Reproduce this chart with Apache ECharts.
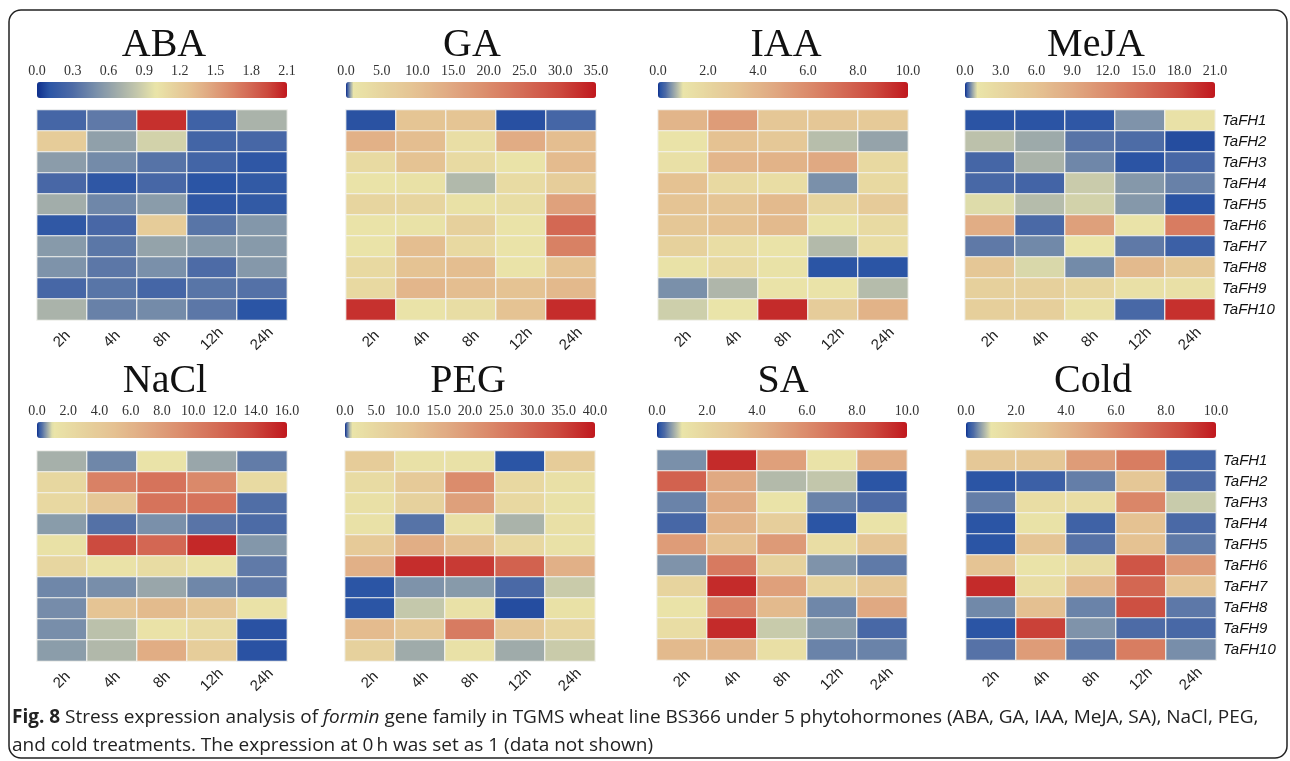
<!DOCTYPE html>
<html>
<head>
<meta charset="utf-8">
<script src="https://cdn.jsdelivr.net/npm/echarts@6/dist/echarts.min.js"></script>
<style>
  html, body { margin: 0; padding: 0; background: #fff; }
  #chart { width: 1290px; height: 761px; }
</style>
</head>
<body>
<div id="chart"></div>
<script>
// time points and genes
const hours = ['2h', '4h', '8h', '12h', '24h'];
const genes = ['TaFH1', 'TaFH2', 'TaFH3', 'TaFH4', 'TaFH5', 'TaFH6', 'TaFH7', 'TaFH8', 'TaFH9', 'TaFH10'];

// panels, in reading order
const treatments = ['ABA', 'GA', 'IAA', 'MeJA', 'NaCl', 'PEG', 'SA', 'Cold'];
const scaleMax = [2.1, 35, 10, 21, 16, 40, 10, 10];
const scaleStep = [0.3, 5, 2, 3, 2, 5, 2, 2];

// relative expression (0 h = 1), one row per gene, columns 2h..24h
const aba = [
  [0.25, 0.38, 2.02, 0.22, 0.72],
  [1.2, 0.6, 0.9, 0.24, 0.26],
  [0.58, 0.47, 0.34, 0.24, 0.12],
  [0.27, 0.12, 0.26, 0.1, 0.14],
  [0.68, 0.45, 0.57, 0.12, 0.14],
  [0.13, 0.27, 1.2, 0.35, 0.54],
  [0.56, 0.36, 0.62, 0.56, 0.56],
  [0.52, 0.37, 0.5, 0.3, 0.55],
  [0.26, 0.35, 0.25, 0.35, 0.33],
  [0.72, 0.42, 0.47, 0.37, 0.1]
];
const ga = [
  [0.1, 9, 9, 0.09, 0.25],
  [13, 10.5, 2.7, 14, 10.5],
  [3.7, 9.5, 3.7, 1.5, 11],
  [1.5, 2, 0.75, 3.5, 7],
  [5, 5, 2, 3, 16],
  [1.5, 1.8, 6, 1.5, 25.5],
  [1.6, 10.5, 4, 1.5, 21.5],
  [4, 9.5, 10.5, 1.5, 9.5],
  [4, 12, 10.5, 9.5, 11.5],
  [32.5, 1.5, 3, 9.5, 33]
];
const iaa = [
  [4, 5.2, 3, 3, 2.8],
  [1.1, 3.3, 2.9, 0.78, 0.62],
  [1.3, 3.9, 4.1, 4.6, 1.8],
  [3.3, 1.8, 1.5, 0.5, 1.8],
  [3.2, 3.1, 3.7, 2, 2.7],
  [3, 3.3, 3.7, 1.2, 1.7],
  [2.3, 1.5, 1.1, 0.76, 1.5],
  [1.2, 1.7, 1.2, 0.1, 0.1],
  [0.5, 0.74, 1.1, 1.1, 0.77],
  [0.88, 1.05, 9.5, 2.6, 4.1]
];
const meja = [
  [0.1, 0.1, 0.12, 0.52, 1.5],
  [0.8, 0.66, 0.35, 0.3, 0.08],
  [0.25, 0.72, 0.45, 0.1, 0.26],
  [0.27, 0.24, 0.86, 0.55, 0.42],
  [0.95, 0.77, 0.9, 0.55, 0.1],
  [8.5, 0.28, 10, 1.3, 13.5],
  [0.38, 0.46, 1.2, 0.38, 0.2],
  [5.4, 0.93, 0.47, 7, 5.3],
  [4, 4, 3.2, 1.8, 1.8],
  [4.2, 4.2, 1.8, 0.27, 19.6]
];
const nacl = [
  [0.7, 0.45, 1.2, 0.64, 0.39],
  [2.5, 10, 11, 9.5, 2.2],
  [2.4, 4.3, 11, 11, 0.31],
  [0.57, 0.33, 0.5, 0.35, 0.29],
  [1.5, 13.7, 11.8, 15.3, 0.54],
  [2.6, 1.3, 2, 1.3, 0.38],
  [0.45, 0.49, 0.64, 0.45, 0.38],
  [0.48, 4.6, 5.5, 4.4, 1.3],
  [0.49, 0.8, 1.3, 2.1, 0.1],
  [0.58, 0.75, 6.7, 3.6, 0.1]
];
const peg = [
  [8, 2, 2, 0.1, 8],
  [3.7, 8.8, 22.5, 4.5, 2.5],
  [2.5, 6.5, 18.5, 4.5, 2],
  [2, 0.34, 2.5, 0.72, 2.5],
  [8.8, 15.5, 11.5, 4.5, 2],
  [15, 37.5, 36, 30, 15],
  [0.1, 0.52, 0.56, 0.28, 0.86],
  [0.1, 0.84, 2, 0.08, 2.2],
  [12.5, 9.5, 25.5, 9.5, 5.5],
  [6.5, 0.67, 2, 0.67, 0.86]
];
const sa = [
  [0.5, 9.5, 5, 1.1, 4.4],
  [7.7, 4.6, 0.76, 0.83, 0.1],
  [0.43, 4.5, 1.1, 0.43, 0.3],
  [0.26, 4.1, 2.5, 0.1, 1.1],
  [5.2, 3.3, 5.3, 1.5, 3.1],
  [0.52, 6.7, 2.2, 0.52, 0.38],
  [2.1, 9.5, 5, 2.1, 3],
  [1.1, 6.4, 3.7, 0.45, 4.6],
  [1.5, 9.5, 0.86, 0.56, 0.27],
  [3.7, 4, 1.4, 0.43, 0.43]
];
const cold = [
  [2.9, 3, 5.2, 6.6, 0.24],
  [0.1, 0.2, 0.4, 3, 0.3],
  [0.4, 1.5, 1.5, 6.2, 0.86],
  [0.1, 1.2, 0.22, 3.3, 0.28],
  [0.1, 3.1, 0.34, 3.3, 0.38],
  [3.2, 1.1, 1.6, 8.2, 5.3],
  [9.5, 1.5, 3.8, 7.5, 3.1],
  [0.46, 3.4, 0.43, 8.4, 0.37],
  [0.1, 8.9, 0.52, 0.3, 0.27],
  [0.34, 5.2, 0.38, 6.6, 0.49]
];
const panelData = [aba, ga, iaa, meja, nacl, peg, sa, cold];

// ---- colour scale: blue (0) -> pale yellow (1) -> red (max) ----
const lowStops = [
  [0, '#0f2f8c'], [0.1, '#2b55a5'], [0.3, '#4d6ba6'], [0.5, '#7a90aa'],
  [0.7, '#a6b0aa'], [0.85, '#c6c9ab'], [1, '#eae5a9']
];
const highStops = [
  [0, '#eae5a9'], [0.15, '#e6d09c'], [0.25, '#e5c393'], [0.4, '#e0a982'],
  [0.55, '#db8c6c'], [0.7, '#d46c56'], [0.85, '#cc4a3e'], [1, '#c0181e']
];

function hexToRgb(h) {
  return [parseInt(h.slice(1, 3), 16), parseInt(h.slice(3, 5), 16), parseInt(h.slice(5, 7), 16)];
}
function lerpStops(stops, t) {
  t = Math.max(0, Math.min(1, t));
  for (let i = 1; i < stops.length; i++) {
    if (t <= stops[i][0]) {
      const a = stops[i - 1], b = stops[i];
      const f = (t - a[0]) / (b[0] - a[0]);
      const ca = hexToRgb(a[1]), cb = hexToRgb(b[1]);
      const c = ca.map((v, k) => Math.round(v + (cb[k] - v) * f));
      return 'rgb(' + c.join(',') + ')';
    }
  }
  return stops[stops.length - 1][1];
}
function colourAt(v, max) {
  if (v <= 1) return lerpStops(lowStops, v);
  return lerpStops(highStops, (v - 1) / (max - 1));
}
function paletteFor(max) {
  const n = 400;
  const out = [];
  for (let i = 0; i <= n; i++) out.push(colourAt(max * i / n, max));
  return out;
}

// ---- layout ----
const cellLeft = [37, 346, 658, 965, 37, 345, 657, 966];
const cellTop = [110, 110, 110, 110, 451, 451, 450, 450];
const cellW = 250, cellH = 210;
const barTop = [82, 82, 82, 82, 422, 422, 422, 422];
const barH = 16;
const titleCenter = [164, 472, 786, 1096, 165, 468, 783, 1093];
const titleTop = [25, 25, 25, 25, 361, 361, 361, 361];

const chart = echarts.init(document.getElementById('chart'));

const grid = [], xAxis = [], yAxis = [], series = [], visualMap = [], title = [];

treatments.forEach((name, i) => {
  const max = scaleMax[i];
  const showGenes = (i % 4 === 3);

  // heatmap grid
  grid.push({ left: cellLeft[i], top: cellTop[i], width: cellW, height: cellH, containLabel: false });
  // colour bar label grid
  grid.push({ left: cellLeft[i], top: barTop[i], width: cellW, height: barH, containLabel: false });

  xAxis.push({
    type: 'category', gridIndex: 2 * i, data: hours,
    axisLine: { show: false }, axisTick: { show: false }, splitLine: { show: false },
    axisLabel: {
      rotate: 45, align: 'center', verticalAlign: 'middle', margin: 19,
      fontFamily: 'Liberation Sans, Arial, sans-serif', fontSize: 15, color: '#222'
    }
  });
  yAxis.push({
    type: 'category', gridIndex: 2 * i, data: genes, inverse: true,
    position: 'right',
    axisLine: { show: false }, axisTick: { show: false }, splitLine: { show: false },
    axisLabel: {
      show: showGenes, margin: 7, fontStyle: 'italic',
      fontFamily: 'Liberation Sans, Arial, sans-serif', fontSize: 15, color: '#111'
    }
  });

  xAxis.push({
    type: 'value', gridIndex: 2 * i + 1, min: 0, max: max, interval: scaleStep[i],
    position: 'top',
    axisLine: { show: false }, axisTick: { show: false }, splitLine: { show: false },
    axisLabel: {
      margin: 4, showMinLabel: true, showMaxLabel: true,
      fontFamily: 'Liberation Serif, Times New Roman, serif', fontSize: 14, color: '#333',
      formatter: v => v.toFixed(1)
    }
  });
  yAxis.push({ type: 'value', gridIndex: 2 * i + 1, show: false, min: 0, max: 1 });

  const cells = [];
  panelData[i].forEach((row, r) => row.forEach((v, c) => cells.push([c, r, v])));

  series.push({
    name: name, type: 'heatmap',
    xAxisIndex: 2 * i, yAxisIndex: 2 * i,
    data: cells,
    itemStyle: { borderColor: '#f4f4f0', borderWidth: 1.2 },
    emphasis: { disabled: true }
  });

  visualMap.push({
    type: 'continuous', seriesIndex: i, dimension: 2,
    min: 0, max: max, orient: 'horizontal', calculable: false, hoverLink: false,
    left: cellLeft[i], top: barTop[i], padding: 0,
    itemWidth: barH, itemHeight: cellW, text: null, showLabel: false,
    inRange: { color: paletteFor(max) }
  });

  title.push({
    text: name, left: titleCenter[i], top: titleTop[i], textAlign: 'center', padding: 0,
    textStyle: { fontFamily: 'Liberation Serif, Times New Roman, serif', fontSize: 40, fontWeight: 'normal', color: '#111' }
  });
});

chart.setOption({
  animation: false,
  backgroundColor: '#fff',
  title: title,
  grid: grid,
  xAxis: xAxis,
  yAxis: yAxis,
  visualMap: visualMap,
  series: series,
  graphic: [
    {
      type: 'rect', silent: true,
      shape: { x: 9, y: 10, width: 1278, height: 748, r: 12 },
      style: { fill: 'none', stroke: '#222', lineWidth: 1.5 }
    },
    {
      type: 'text', left: 12, top: 704, silent: true,
      style: {
        text: '{b|Fig. 8} Stress expression analysis of {i|formin} gene family in TGMS wheat line BS366 under 5 phytohormones (ABA, GA, IAA, MeJA, SA), NaCl, PEG,\nand cold treatments. The expression at 0\u2009h was set as 1 (data not shown)',
        fontFamily: 'Open Sans, sans-serif', fontSize: 19, lineHeight: 28, fill: '#222',
        rich: {
          b: { fontWeight: 'bold', fontFamily: 'Open Sans, sans-serif', fontSize: 19, fill: '#222' },
          i: { fontStyle: 'italic', fontFamily: 'Open Sans, sans-serif', fontSize: 19, fill: '#222' }
        }
      }
    }
  ]
});
</script>
</body>
</html>
